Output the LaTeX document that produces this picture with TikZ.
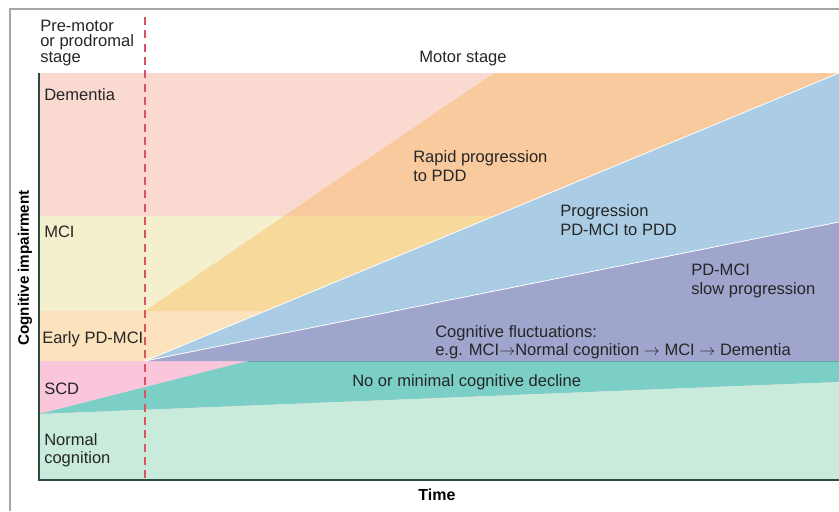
\documentclass[tikz,border=0pt]{standalone}
\usepackage{fontspec}
\setmainfont{Liberation Sans}
\usepackage{xcolor}
\usetikzlibrary{positioning}
\usetikzlibrary{calc}

\definecolor{demcol}{HTML}{FADAD0}
\definecolor{mcicol}{HTML}{F4F0CD}
\definecolor{earlycol}{HTML}{FCE2BD}
\definecolor{scdcol}{HTML}{F9C6DC}
\definecolor{normcol}{HTML}{C8EBDB}
\definecolor{tealcol}{HTML}{7BCFC7}
\definecolor{purpcol}{HTML}{9FA5CC}
\definecolor{bluecol}{HTML}{AACDE5}
\definecolor{orangecol}{HTML}{F9CA9D}
\definecolor{orangemci}{HTML}{F7D99B}
\definecolor{dashcol}{HTML}{D9545F}
\definecolor{axiscol}{HTML}{2F4A3E}

\newcommand{\goesto}{$\rightarrow$}

\tikzset{
  lbl/.style={anchor=west, inner sep=0pt, align=left, text=black!85,
    font=\fontsize{12.4}{13.9}\selectfont},
  ttl/.style={inner sep=0pt, font=\bfseries\fontsize{12}{14}\selectfont},
  seam/.style={white, line width=0.6pt}
}

\begin{document}
\begin{tikzpicture}[x=0.75pt, y=-0.75pt]
\useasboundingbox (0,0) rectangle (839,511);
% frame
\draw[gray!70, line width=0.8pt] (10,511) -- (10,9) -- (839,9);
% corners of the plot
\coordinate (tl) at (39,73);
\coordinate (bl) at (39,480);
\coordinate (br) at (839,480);
\coordinate (tr) at (839,73);
% bands
\fill[demcol] (39,73) rectangle (839,216);
\fill[mcicol] (39,216) rectangle (839,311);
\fill[earlycol] (39,311) rectangle (839,361);
\fill[scdcol] (39,361) rectangle (839,414);
% fan points
\coordinate (onset) at (145,361);
\coordinate (rapid) at (145,311);
\coordinate (scd0) at (39,414);
% wedges
\fill[orangecol] (284,216) -- (494,73) -- (839,73) -- (494.4,216) -- cycle;
\fill[orangemci] (rapid) -- (284,216) -- (494.4,216) -- (265.5,311) -- cycle;
\fill[bluecol] (onset) -- (839,73) -- (839,222) -- cycle;
\fill[purpcol] (onset) -- (839,222) -- (839,361) -- cycle;
\fill[tealcol] (scd0) -- (248,361) -- (839,361) -- (839,382) -- cycle;
\fill[normcol] (scd0) -- (839,382) -- (839,480) -- (39,480) -- cycle;
\draw[seam] (onset) -- (839,73);
\draw[seam] (onset) -- (839,222);
\draw[tealcol!80!black, line width=0.6pt] (248,361) -- (839,361);
% axes
\draw[axiscol, line width=1.2pt] (tl) -- (bl) -- (br);
% pre-motor boundary
\draw[dashcol, line width=1.2pt, dash pattern=on 6pt off 4pt] (145,17) -- (145,480);
% labels
\node[lbl, font=\fontsize{12.4}{11.6}\selectfont] (premotor) at (40,43) {Pre-motor\\or prodromal\\stage};
\node[lbl, anchor=center] (motor) at (463,59) {Motor stage};
\node[lbl] (dementia) at (44,95) {Dementia};
\node[lbl] (mci) at (44,232) {MCI};
\node[lbl] (early) at (42,339) {Early PD-MCI};
\node[lbl] (scd) at (44,389) {SCD};
\node[lbl] (normal) at (44,450) {Normal\\cognition};
\node[lbl] (rapidtxt) at (413,166) {Rapid progression\\to PDD};
\node[lbl] (progtxt) at (560,220) {Progression\\PD-MCI to PDD};
\node[lbl] (slowtxt) at (691,281) {PD-MCI\\slow progression};
\node[lbl] (fluct) at (435,342) {Cognitive fluctuations:\\e.g. MCI\goesto Normal cognition \goesto{} MCI \goesto{} Dementia};
\node[lbl] (minimal) at (352,382) {No or minimal cognitive decline};
\node[ttl] (time) at (437,495) {Time};
\node[ttl, rotate=90, font=\bfseries\fontsize{11.4}{13}\selectfont] (impair) at (25,268) {Cognitive impairment};
\end{tikzpicture}
\end{document}
